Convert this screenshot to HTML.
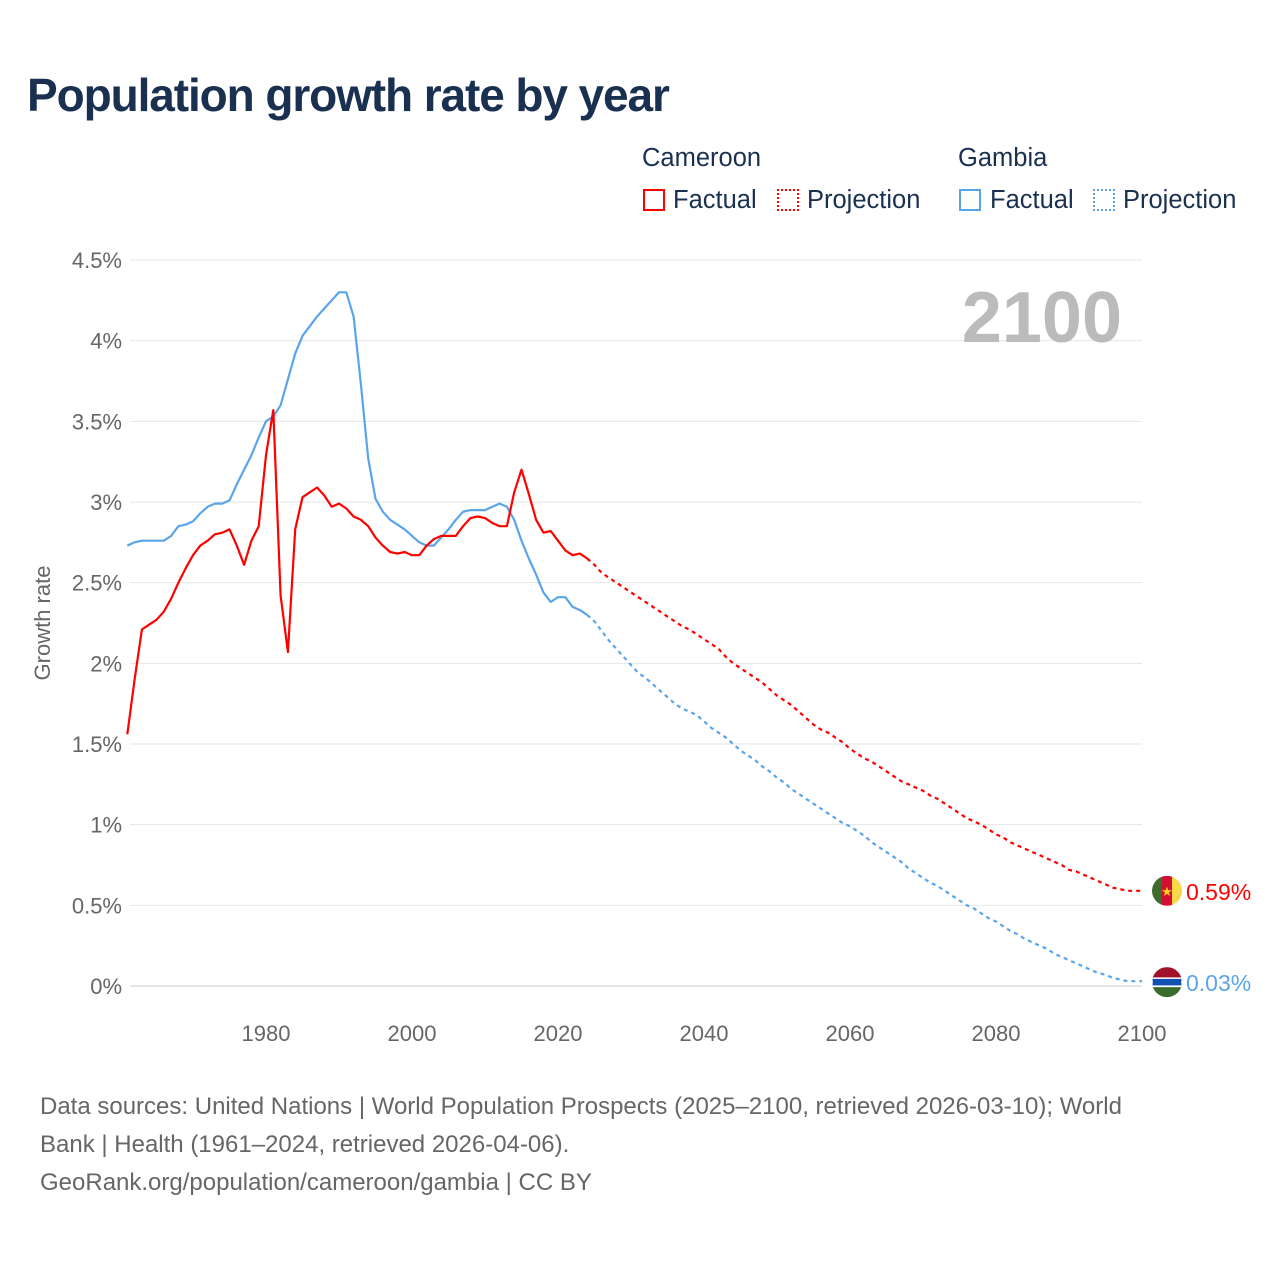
<!DOCTYPE html>
<html><head><meta charset="utf-8">
<style>
body{margin:0;background:#fff;font-family:"Liberation Sans",sans-serif;}
#wrap{position:relative;width:1280px;height:1280px;overflow:hidden;}
h1{position:absolute;left:27px;top:68px;margin:0;font-size:46px;font-weight:bold;color:#1a3050;letter-spacing:-1.1px;}
.lg{position:absolute;font-size:25.5px;color:#1a3050;}
.box{position:absolute;width:22px;height:22px;box-sizing:border-box;}
.src{position:absolute;left:40px;top:1088px;font-size:24px;line-height:38px;color:#666;width:1220px;white-space:nowrap;}
</style></head><body>
<div id="wrap">
<h1>Population growth rate by year</h1>
<div class="lg" style="left:642px;top:144px">Cameroon</div>
<div class="lg" style="left:958px;top:144px">Gambia</div>
<div class="box" style="left:643px;top:189px;border:2px solid #f00"></div>
<div class="lg" style="left:673px;top:186px">Factual</div>
<div class="box" style="left:777px;top:189px;border:2px dotted #f00"></div>
<div class="lg" style="left:807px;top:186px">Projection</div>
<div class="box" style="left:959px;top:189px;border:2px solid #5aa5ea"></div>
<div class="lg" style="left:990px;top:186px">Factual</div>
<div class="box" style="left:1093px;top:189px;border:2px dotted #5aa5ea"></div>
<div class="lg" style="left:1123px;top:186px">Projection</div>
<svg id="plot" width="1280" height="1280" style="position:absolute;left:0;top:0"></svg>
<div class="src">Data sources: United Nations | World Population Prospects (2025–2100, retrieved 2026-03-10); World<br>Bank | Health (1961–2024, retrieved 2026-04-06).<br>GeoRank.org/population/cameroon/gambia | CC BY</div>
</div>
<script>
const startYear = 1961;
const cmrFactual = [1.56,1.90,2.21,2.24,2.27,2.32,2.40,2.50,2.59,2.67,2.73,2.76,2.80,2.81,2.83,2.73,2.61,2.76,2.85,3.29,3.57,2.42,2.07,2.83,3.03,3.06,3.09,3.04,2.97,2.99,2.96,2.91,2.89,2.85,2.78,2.73,2.69,2.68,2.69,2.67,2.67,2.73,2.77,2.79,2.79,2.79,2.85,2.90,2.91,2.90,2.87,2.85,2.85,3.06,3.20,3.05,2.89,2.81,2.82,2.76,2.70,2.67,2.68,2.65];
const cmrProj = [2.61,2.56,2.53,2.50,2.47,2.44,2.41,2.38,2.35,2.32,2.29,2.26,2.23,2.21,2.18,2.15,2.12,2.09,2.04,2.00,1.97,1.94,1.91,1.88,1.84,1.80,1.77,1.74,1.70,1.66,1.62,1.59,1.57,1.54,1.51,1.47,1.44,1.41,1.39,1.36,1.33,1.30,1.27,1.25,1.23,1.21,1.18,1.16,1.13,1.10,1.07,1.04,1.02,1.00,0.97,0.94,0.92,0.89,0.87,0.85,0.83,0.81,0.79,0.77,0.75,0.72,0.71,0.69,0.67,0.65,0.63,0.61,0.60,0.59,0.59,0.59];
const gmbFactual = [2.73,2.75,2.76,2.76,2.76,2.76,2.79,2.85,2.86,2.88,2.93,2.97,2.99,2.99,3.01,3.11,3.20,3.29,3.40,3.50,3.53,3.60,3.76,3.92,4.03,4.09,4.15,4.20,4.25,4.30,4.30,4.15,3.73,3.27,3.02,2.94,2.89,2.86,2.83,2.79,2.75,2.73,2.73,2.78,2.83,2.89,2.94,2.95,2.95,2.95,2.97,2.99,2.97,2.89,2.76,2.65,2.55,2.44,2.38,2.41,2.41,2.35,2.33,2.30];
const gmbProj = [2.26,2.20,2.14,2.09,2.04,1.99,1.94,1.91,1.87,1.83,1.79,1.75,1.72,1.70,1.68,1.64,1.60,1.57,1.54,1.50,1.46,1.43,1.40,1.36,1.33,1.29,1.26,1.22,1.19,1.16,1.13,1.10,1.07,1.04,1.01,0.99,0.96,0.93,0.89,0.86,0.83,0.80,0.77,0.73,0.70,0.67,0.64,0.62,0.59,0.56,0.53,0.50,0.48,0.45,0.42,0.40,0.37,0.34,0.32,0.29,0.27,0.25,0.23,0.20,0.18,0.16,0.14,0.12,0.10,0.08,0.07,0.05,0.04,0.03,0.03,0.03];
const yTicks = [0,0.5,1,1.5,2,2.5,3,3.5,4,4.5];
const yTickLabels = ["0%","0.5%","1%","1.5%","2%","2.5%","3%","3.5%","4%","4.5%"];
const xTicks = [1980,2000,2020,2040,2060,2080,2100];

const NS="http://www.w3.org/2000/svg";
const svg=document.getElementById('plot');
const X=y=>127.3+(y-1961)*7.3;
const Y=v=>986-v*161.33;
function mk(t,a){const e=document.createElementNS(NS,t);for(const k in a)e.setAttribute(k,a[k]);svg.appendChild(e);return e;}
yTicks.forEach((v,i)=>{
  const g=mk('line',{x1:130,x2:1142,y1:Y(v),y2:Y(v),stroke:v===0?'#ccc':'#e6e6e6','stroke-width':1});
  
  
  const t=mk('text',{x:122,y:Y(v)+8,'text-anchor':'end','font-size':22,fill:'#666','font-family':'Liberation Sans, sans-serif'});
  t.textContent=yTickLabels[i];
  
  
});
xTicks.forEach(yr=>{
  const t=mk('text',{x:X(yr),y:1041,'text-anchor':'middle','font-size':22,fill:'#666','font-family':'Liberation Sans, sans-serif'});
  t.textContent=yr;
  
  
});
const yt=mk('text',{x:0,y:0,transform:'translate(50,623) rotate(-90)','text-anchor':'middle','font-size':22,fill:'#666','font-family':'Liberation Sans, sans-serif'});
yt.textContent='Growth rate';


const yr=mk('text',{x:1122,y:342,'text-anchor':'end','font-size':72,'font-weight':'bold',fill:'#bbb','font-family':'Liberation Sans, sans-serif'});
yr.textContent='2100';



function path(arr,start,color,dash,name,prefix){
  let pts=[];
  if(prefix!==undefined)pts.push([X(start-1),Y(prefix)]);
  arr.forEach((v,i)=>pts.push([X(start+i),Y(v)]));
  const p=mk('path',{d:'M'+pts.map(p=>p[0].toFixed(1)+','+p[1].toFixed(1)).join('L'),fill:'none',stroke:color,'stroke-width':2.2,'stroke-dasharray':dash||'none','stroke-linejoin':'round'});
  
  
}
path(gmbFactual,startYear,'#5aa5ea',null,'gambia-factual-line');
path(gmbProj,startYear+gmbFactual.length,'#5aa5ea','4 4','gambia-projection-line',gmbFactual[gmbFactual.length-1]);
path(cmrFactual,startYear,'#f00',null,'cameroon-factual-line');
path(cmrProj,startYear+cmrFactual.length,'#f00','4 4','cameroon-projection-line',cmrFactual[cmrFactual.length-1]);

const cy1=Y(cmrProj[cmrProj.length-1]), cy2=Y(gmbProj[gmbProj.length-1])-6;
const defs=mk('defs',{});
defs.innerHTML='<clipPath id="c1"><circle cx="1167" cy="'+cy1+'" r="15"/></clipPath><clipPath id="c2"><circle cx="1167" cy="'+(cy2+7)+'" r="15"/></clipPath>';
const f1=mk('g',{'clip-path':'url(#c1)'});


f1.innerHTML='<rect x="1152" y="'+(cy1-15)+'" width="10" height="30" fill="#3f6a2c"/><rect x="1162" y="'+(cy1-15)+'" width="10" height="30" fill="#d21034"/><rect x="1172" y="'+(cy1-15)+'" width="10" height="30" fill="#fcd848"/><text x="1167" y="'+(cy1+5)+'" font-size="13" text-anchor="middle" fill="#fcd116">★</text>';
const c2=cy2+7;
const f2=mk('g',{'clip-path':'url(#c2)'});


f2.innerHTML='<rect x="1152" y="'+(c2-15)+'" width="30" height="11" fill="#a0112a"/><rect x="1152" y="'+(c2-4)+'" width="30" height="8" fill="#1050b0" stroke="#fff" stroke-width="1.5"/><rect x="1152" y="'+(c2+5)+'" width="30" height="11" fill="#3a6b2a"/>';
const l1=mk('text',{x:1186,y:cy1+9,'font-size':23,fill:'#f00','font-family':'Liberation Sans, sans-serif'});
l1.textContent='0.59%';


const l2=mk('text',{x:1186,y:c2+9,'font-size':23,fill:'#5aa5ea','font-family':'Liberation Sans, sans-serif'});
l2.textContent='0.03%';


</script>
</body></html>
